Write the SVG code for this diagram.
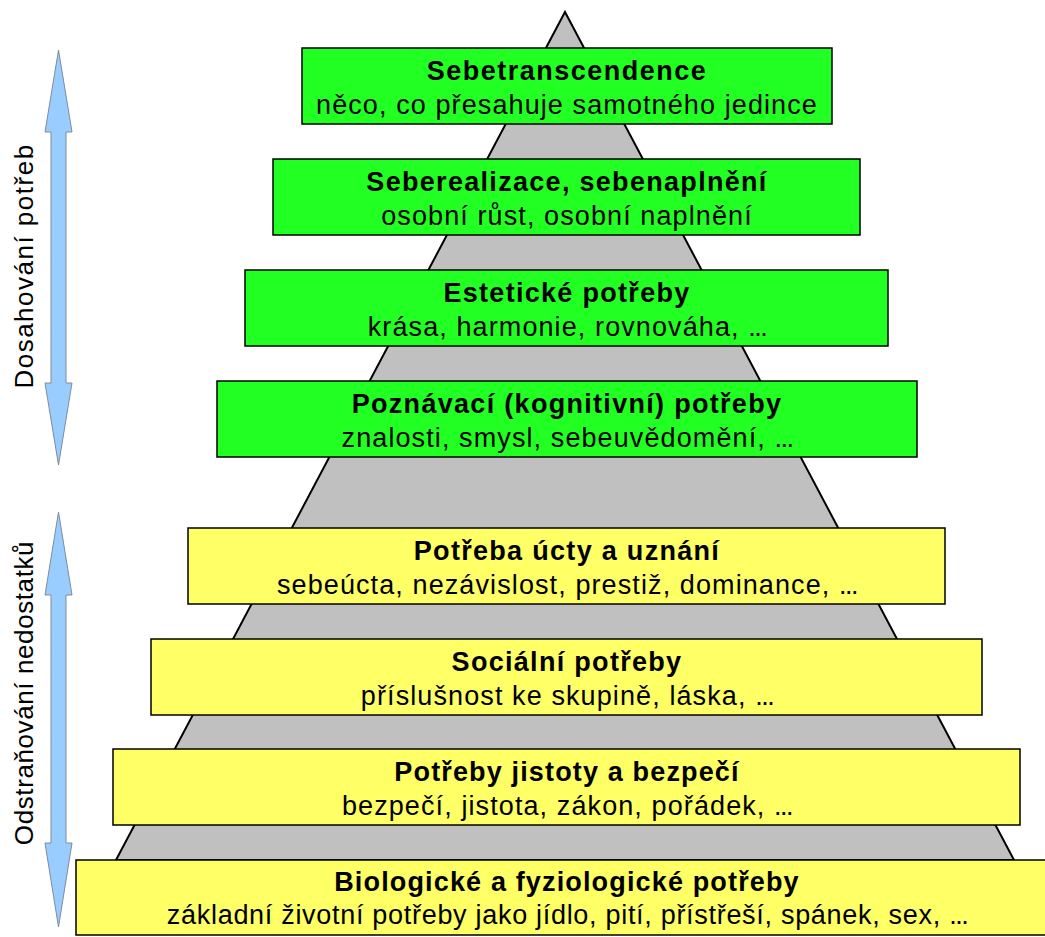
<svg xmlns="http://www.w3.org/2000/svg" width="1045" height="937" viewBox="0 0 1045 937">
<style>
.g{fill:#22ff22;stroke:#000;stroke-width:1.5}
.y{fill:#ffff66;stroke:#000;stroke-width:1.5}
.t{font-family:"Liberation Sans",Arial,sans-serif;font-size:27px;font-weight:bold;text-anchor:middle;fill:#000;letter-spacing:1.3px}
.s{font-family:"Liberation Sans",Arial,sans-serif;font-size:27px;text-anchor:middle;fill:#000;letter-spacing:1.1px}
.d{letter-spacing:-1.5px}
.side{font-family:"Liberation Sans",Arial,sans-serif;font-size:26px;text-anchor:middle;fill:#000;letter-spacing:1.5px}
.arr{fill:#99ccff;stroke:#7f8c99;stroke-width:1}
</style>
<rect width="1045" height="937" fill="#fff"/>
<g id="pyramid"><polygon points="565,12 1014,860 116,860" fill="#c0c0c0" stroke="#000" stroke-width="2"/></g>
<g id="connectors">
<polygon class="arr" points="58.5,50 72,132 66,132 66,383 72,383 58.5,465 45,383 51,383 51,132 45,132"/>
<polygon class="arr" points="58.5,512 72,595 66,595 66,843 72,843 58.5,927 45,843 51,843 51,595 45,595"/>
</g>
<g id="label-dosahovani"><text class="side" transform="translate(33,266) rotate(-90)">Dosahování potřeb</text></g>
<g id="label-odstranovani"><text class="side" style="letter-spacing:0.6px" transform="translate(33,693) rotate(-90)">Odstraňování nedostatků</text></g>
<g id="n1"><rect class="g" x="302" y="48" width="530" height="76"/><text class="t" style="letter-spacing:1.5px" x="567" y="80">Sebetranscendence</text><text class="s" x="567" y="114">něco, co přesahuje samotného jedince</text></g>
<g id="n2"><rect class="g" x="273" y="159" width="587" height="76"/><text class="t" x="567" y="191">Seberealizace, sebenaplnění</text><text class="s" x="567" y="225">osobní růst, osobní naplnění</text></g>
<g id="n3"><rect class="g" x="245" y="270" width="643" height="76"/><text class="t" x="567" y="302">Estetické potřeby</text><text class="s" x="567" y="336">krása, harmonie, rovnováha, <tspan class="d">...</tspan></text></g>
<g id="n4"><rect class="g" x="217" y="381" width="700" height="76"/><text class="t" x="567" y="413">Poznávací (kognitivní) potřeby</text><text class="s" x="567" y="447">znalosti, smysl, sebeuvědomění, <tspan class="d">...</tspan></text></g>
<g id="n5"><rect class="y" x="188" y="528" width="757" height="76"/><text class="t" x="567" y="560">Potřeba úcty a uznání</text><text class="s" x="567" y="594">sebeúcta, nezávislost, prestiž, dominance, <tspan class="d">...</tspan></text></g>
<g id="n6"><rect class="y" x="151" y="639" width="831" height="76"/><text class="t" x="567" y="671">Sociální potřeby</text><text class="s" x="567" y="705">příslušnost ke skupině, láska, <tspan class="d">...</tspan></text></g>
<g id="n7"><rect class="y" x="113" y="749" width="907" height="76"/><text class="t" style="letter-spacing:1.15px" x="567" y="781">Potřeby jistoty a bezpečí</text><text class="s" x="567" y="815">bezpečí, jistota, zákon, pořádek, <tspan class="d">...</tspan></text></g>
<g id="n8"><rect class="y" x="76" y="860" width="1000" height="75"/><text class="t" style="letter-spacing:1.15px" x="567" y="891">Biologické a fyziologické potřeby</text><text class="s" style="letter-spacing:0.7px" x="567" y="924">základní životní potřeby jako jídlo, pití, přístřeší, spánek, sex, <tspan class="d">...</tspan></text></g>
</svg>
